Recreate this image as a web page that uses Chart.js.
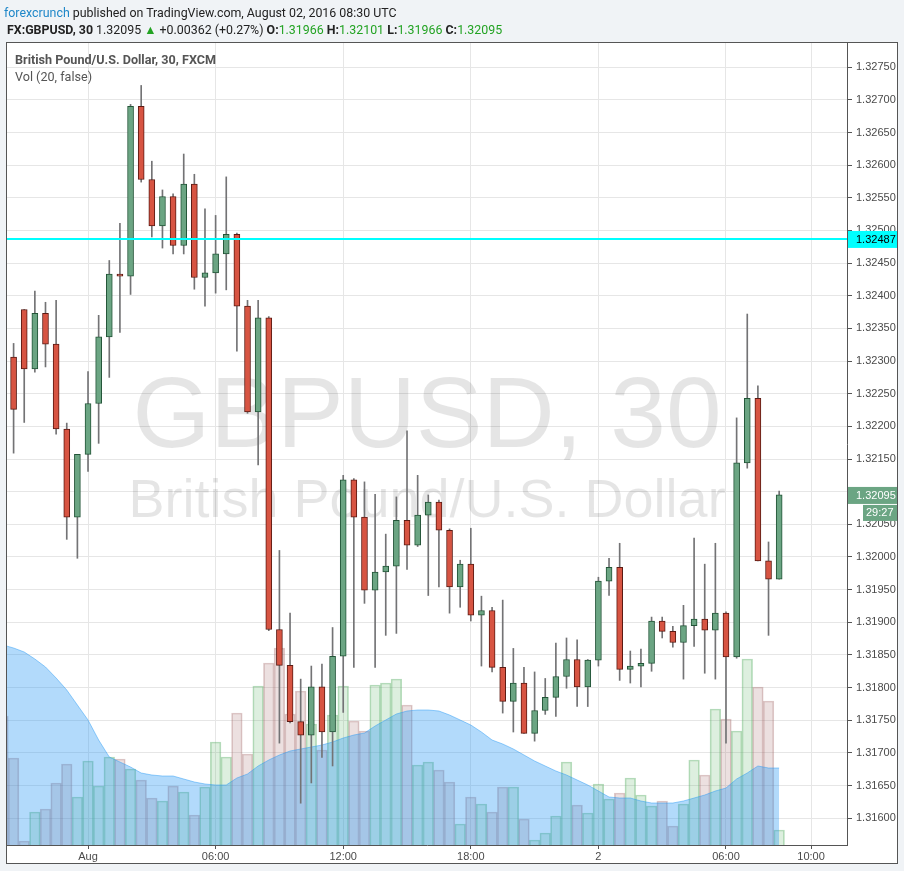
<!DOCTYPE html>
<html>
<head>
<meta charset="utf-8">
<script src="https://cdn.jsdelivr.net/npm/chart.js@4.4.0/dist/chart.umd.min.js"></script>
<style>
body{margin:0;background:#f0f3f6;width:904px;height:871px;overflow:hidden;position:relative;font-family:Roboto,"Liberation Sans",sans-serif}
#c{position:absolute;left:0;top:0}
.t{position:absolute;white-space:nowrap;font-size:12.4px;color:#222}
.g{color:#23a323}
.leg{color:#555;font-size:12.6px}
</style>
</head>
<body>
<canvas id="c" width="904" height="871"></canvas>
<div class="t" style="left:4px;top:5px"><span style="color:#1f87c8">forexcrunch</span> published on TradingView.com, August 02, 2016 08:30 UTC</div>
<div class="t" style="left:7px;top:22px"><b>FX:GBPUSD, 30</b> 1.32095 <span class="g">&#9650;</span> +0.00362 (+0.27%) <b>O:</b><span class="g">1.31966</span> <b>H:</b><span class="g">1.32101</span> <b>L:</b><span class="g">1.31966</span> <b>C:</b><span class="g">1.32095</span></div>
<div class="t leg" style="left:15px;top:52px;font-weight:bold">British Pound/U.S. Dollar, 30, FXCM</div>
<div class="t leg" style="left:15px;top:69px">Vol (20, false)</div>
<script>
// 30-minute bars, slot 0 = Aug 1 00:00 (weekend gap skipped)
var firstSlot = -8;
var times = ['29 Jul 20:00','29 Jul 20:30','31 Jul 21:00','31 Jul 21:30','31 Jul 22:00','31 Jul 22:30','31 Jul 23:00','31 Jul 23:30',
  '00:00','00:30','01:00','01:30','02:00','02:30','03:00','03:30','04:00','04:30','05:00','05:30',
  '06:00','06:30','07:00','07:30','08:00','08:30','09:00','09:30','10:00','10:30','11:00','11:30',
  '12:00','12:30','13:00','13:30','14:00','14:30','15:00','15:30','16:00','16:30','17:00','17:30',
  '18:00','18:30','19:00','19:30','20:00','20:30','21:00','21:30','22:00','22:30','23:00','23:30',
  '2 Aug 00:00','00:30','01:00','01:30','02:00','02:30','03:00','03:30','04:00','04:30','05:00','05:30',
  '06:00','06:30','07:00','07:30','08:00','08:30'];
var opens = [1.32324,1.32306,1.32379,1.32288,1.32373,1.32326,1.32196,1.32061,
  1.32157,1.32235,1.32337,1.32433,1.32430,1.32690,1.32578,1.32507,1.32552,1.32477,1.32571,1.32428,
  1.32435,1.32464,1.32494,1.32384,1.32222,1.32366,1.31889,1.31834,1.31748,1.31727,1.31801,1.31732,
  1.31848,1.32118,1.32061,1.31949,1.31977,1.31986,1.32056,1.32018,1.32064,1.32084,1.32041,1.31954,
  1.31989,1.31911,1.31918,1.31831,1.31779,1.31807,1.31730,1.31765,1.31785,1.31817,1.31843,1.31801,
  1.31842,1.31963,1.31984,1.31828,1.31833,1.31837,1.31902,1.31886,1.31869,1.31895,1.31905,1.31888,
  1.31914,1.31847,1.32144,1.32243,1.31994,1.31966];
var highs = [1.32330,1.32327,1.32379,1.32407,1.32390,1.32393,1.32205,1.32157,
  1.32284,1.32370,1.32454,1.32511,1.32693,1.32722,1.32606,1.32562,1.32556,1.32617,1.32586,1.32533,
  1.32523,1.32582,1.32496,1.32393,1.32393,1.32368,1.32010,1.31914,1.31813,1.31833,1.31836,1.31892,
  1.32125,1.32120,1.32115,1.32096,1.32035,1.32092,1.32193,1.32125,1.32095,1.32087,1.32043,1.31995,
  1.32044,1.31940,1.31923,1.31934,1.31860,1.31831,1.31824,1.31814,1.31868,1.31876,1.31873,1.31843,
  1.31969,1.31998,1.32021,1.31856,1.31859,1.31908,1.31908,1.31894,1.31926,1.32029,1.31989,1.32021,
  1.31916,1.32213,1.32372,1.32262,1.32023,1.32101];
var lows = [1.32300,1.32159,1.32206,1.32283,1.32291,1.32188,1.32027,1.31998,
  1.32131,1.32174,1.32275,1.32344,1.32402,1.32574,1.32490,1.32473,1.32464,1.32464,1.32410,1.32384,
  1.32404,1.32409,1.32315,1.32220,1.32141,1.31887,1.31715,1.31746,1.31623,1.31654,1.31693,1.31680,
  1.31762,1.31831,1.31929,1.31831,1.31880,1.31883,1.31981,1.32016,1.31941,1.31954,1.31914,1.31923,
  1.31902,1.31833,1.31824,1.31761,1.31732,1.31730,1.31718,1.31759,1.31756,1.31799,1.31771,1.31771,
  1.31833,1.31941,1.31811,1.31807,1.31801,1.31825,1.31876,1.31862,1.31813,1.31863,1.31822,1.31813,
  1.31715,1.31845,1.32136,1.31994,1.31880,1.31966];
var closes = [1.32306,1.32226,1.32288,1.32373,1.32326,1.32196,1.32061,1.32157,
  1.32235,1.32337,1.32433,1.32430,1.32690,1.32578,1.32507,1.32552,1.32477,1.32571,1.32428,1.32435,
  1.32464,1.32494,1.32384,1.32222,1.32366,1.31889,1.31834,1.31748,1.31727,1.31801,1.31732,1.31848,
  1.32118,1.32061,1.31949,1.31977,1.31986,1.32056,1.32018,1.32064,1.32084,1.32041,1.31954,1.31989,
  1.31911,1.31918,1.31831,1.31779,1.31807,1.31730,1.31765,1.31785,1.31817,1.31843,1.31801,1.31842,
  1.31963,1.31984,1.31828,1.31833,1.31837,1.31902,1.31886,1.31869,1.31895,1.31905,1.31888,1.31914,
  1.31847,1.32144,1.32243,1.31994,1.31966,1.32095];
var volumes = [1290,870,40,330,360,620,810,480,
  840,590,880,860,760,650,470,440,590,530,300,580,
  1030,880,1320,910,1590,1820,1970,1310,1540,1210,950,1300,
  1590,1240,1140,1600,1620,1660,1400,800,830,750,630,210,
  480,410,330,580,580,260,50,120,290,830,400,320,
  610,460,520,670,500,390,440,190,410,850,700,1360,
  1260,1140,1860,1580,1440,150];
var volMA = [2000,1970,1930,1860,1780,1670,1550,1400,
  1250,1050,880,830,780,720,700,690,690,660,630,610,
  600,600,670,710,790,850,900,940,960,980,1000,1030,
  1070,1100,1120,1190,1250,1310,1340,1350,1350,1340,1300,1250,
  1200,1130,1050,1010,960,900,840,790,740,700,650,600,
  540,480,470,470,440,420,420,420,440,470,500,540,
  570,660,720,790,770,770];
var xTickValues = [0, 12, 24, 36, 48, 60, 68];
var xTickLabels = ['Aug', '06:00', '12:00', '18:00', '2', '06:00', '10:00'];
var alertLevel = 1.32487;
var countdown = '29:27';

var upFill = '#6ba583', upLine = '#225437', downFill = '#d75442', downLine = '#5b1a13';
var isUp = closes.map(function(c, k){ return c >= opens[k]; });
function pt(k, y){ return {x: firstSlot + k, y: y}; }

var axisFont = {family: '"Liberation Sans", Arial, sans-serif', size: 11};

var decor = {
  id: 'decor',
  beforeDraw: function(c){
    var g = c.ctx, a = c.chartArea;
    g.save();
    g.fillStyle = '#fff';
    g.fillRect(a.left, a.top, c.width - 7 - a.left, c.height - 8 - a.top);
    g.restore();
  },
  beforeDatasetsDraw: function(c){
    var g = c.ctx, a = c.chartArea, cx = (a.left + a.right) / 2;
    g.save();
    g.fillStyle = 'rgba(0,0,0,0.1)';
    g.textAlign = 'center';
    g.textBaseline = 'alphabetic';
    g.font = '100px "Liberation Sans", Arial, sans-serif';
    g.fillText('GBPUSD, 30', cx, a.top + 404);
    g.font = '54px "Liberation Sans", Arial, sans-serif';
    g.fillText('British Pound/U.S. Dollar', cx, a.top + 474);
    g.restore();
  },
  afterDatasetsDraw: function(c){
    var g = c.ctx, a = c.chartArea, y = c.scales.y.getPixelForValue(alertLevel);
    g.save();
    g.strokeStyle = '#00ffff';
    g.lineWidth = 2;
    g.beginPath(); g.moveTo(a.left, y); g.lineTo(a.right, y); g.stroke();
    g.restore();
  },
  afterDraw: function(c){
    var g = c.ctx, a = c.chartArea, right = c.width - 7, bottom = c.height - 8;
    var ya = c.scales.y.getPixelForValue(alertLevel);
    var yl = c.scales.y.getPixelForValue(closes[closes.length - 1]);
    g.save();
    g.strokeStyle = '#555';
    g.lineWidth = 1;
    g.strokeRect(a.left - 0.5, a.top - 0.5, right - a.left + 1, bottom - a.top + 1);
    g.font = '11px "Liberation Sans", Arial, sans-serif';
    g.textBaseline = 'middle';
    g.fillStyle = '#00ffff';
    g.fillRect(a.right + 1, ya - 8, right - a.right - 1, 17);
    g.fillStyle = '#000';
    g.fillText(alertLevel.toFixed(5), a.right + 9, ya + 1);
    g.fillStyle = upFill;
    g.fillRect(a.right + 1, yl - 8, right - a.right - 1, 17);
    g.fillRect(right - 34, yl + 10, 34, 16);
    g.fillStyle = '#fff';
    g.fillText(closes[closes.length - 1].toFixed(5), a.right + 9, yl + 1);
    g.fillText(countdown, right - 31, yl + 18);
    g.restore();
  }
};

new Chart(document.getElementById('c').getContext('2d'), {
  type: 'bar',
  data: {
    datasets: [
      {
        type: 'bar', label: 'Volume', yAxisID: 'yv', order: 5, clip: 0,
        data: volumes.map(function(v, k){ return pt(k, v); }),
        backgroundColor: isUp.map(function(u){ return u ? 'rgba(100,180,110,0.22)' : 'rgba(160,100,100,0.2)'; }),
        borderColor: isUp.map(function(u){ return u ? 'rgba(100,180,110,0.45)' : 'rgba(160,100,100,0.35)'; }),
        borderWidth: 1, grouped: false, categoryPercentage: 1, barPercentage: 1
      },
      {
        type: 'line', label: 'Vol MA 20', yAxisID: 'yv', order: 4, clip: 0,
        data: volMA.map(function(v, k){ return pt(k, v); }),
        fill: 'origin', backgroundColor: 'rgba(33,150,243,0.35)', borderColor: 'rgba(33,150,243,0.45)',
        borderWidth: 1, pointRadius: 0, tension: 0
      },
      {
        type: 'bar', label: 'Wick', yAxisID: 'y', order: 2, clip: 0,
        data: lows.map(function(l, k){ return pt(k, [l, highs[k]]); }),
        backgroundColor: '#737375', barThickness: 1, grouped: false
      },
      {
        type: 'bar', label: 'GBPUSD', yAxisID: 'y', order: 1, clip: 0,
        data: opens.map(function(o, k){ return pt(k, [o, closes[k]]); }),
        backgroundColor: isUp.map(function(u){ return u ? upFill : downFill; }),
        borderColor: isUp.map(function(u){ return u ? upLine : downLine; }),
        borderWidth: 1, borderSkipped: false, barThickness: 6, minBarLength: 2, grouped: false
      }
    ]
  },
  options: {
    responsive: false,
    animation: false,
    layout: {padding: {left: 7, top: 43, right: 7, bottom: 8}},
    plugins: {legend: {display: false}, tooltip: {enabled: false}},
    scales: {
      x: {
        type: 'linear', min: -7.62, max: 71.38, offset: false,
        afterBuildTicks: function(s){ s.ticks = xTickValues.map(function(v){ return {value: v}; }); },
        afterFit: function(s){ s.height = 18; },
        ticks: {autoSkip: false, maxRotation: 0, padding: 1, color: '#4a4a4a', font: axisFont,
          callback: function(v, i){ return xTickLabels[i]; }},
        grid: {offset: false, color: '#e6e6e6', tickColor: '#555', tickLength: 4},
        border: {color: '#555'}
      },
      y: {
        type: 'linear', position: 'right', min: 1.31559, max: 1.32787,
        afterBuildTicks: function(s){
          s.ticks = s.ticks.filter(function(t){ return Math.abs(t.value * 2000 - Math.round(t.value * 2000)) < 1e-6; });
        },
        afterFit: function(s){ s.width = 50; },
        ticks: {stepSize: 0.0005, padding: 4, color: '#4a4a4a', font: axisFont,
          callback: function(v){ return v.toFixed(5); }},
        grid: {color: '#e6e6e6', tickColor: '#555', tickLength: 5},
        border: {color: '#555'}
      },
      yv: {display: false, min: 0, max: 8020}
    }
  },
  plugins: [decor]
});
</script>
</body>
</html>
